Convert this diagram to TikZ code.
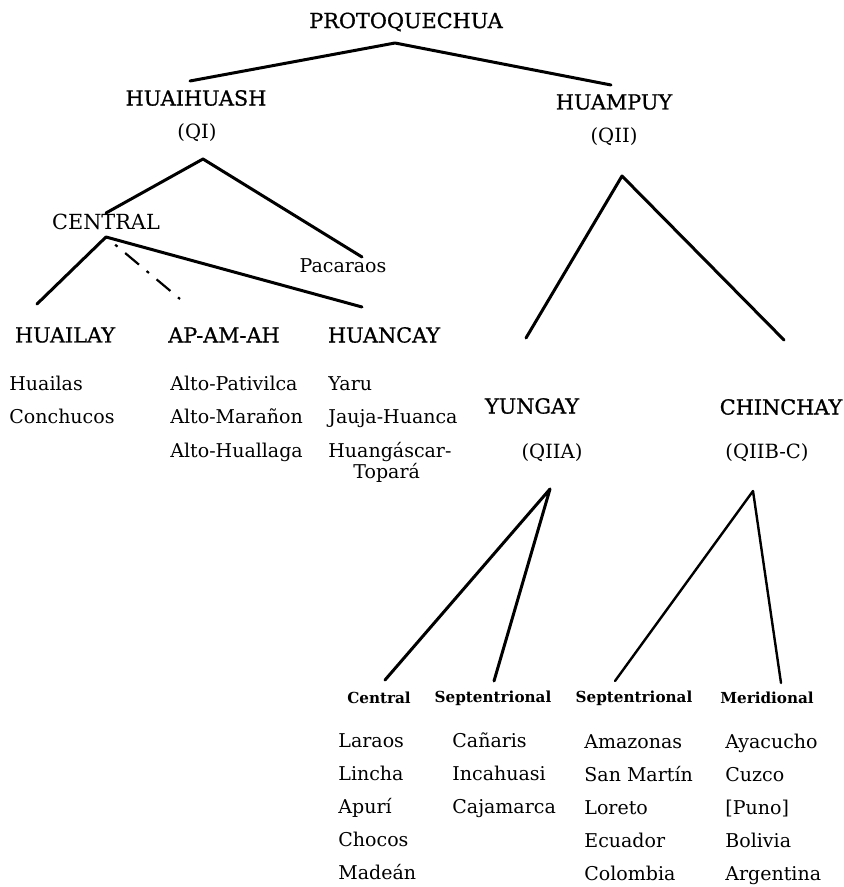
\documentclass[tikz,border=0pt]{standalone}
\usepackage{fontspec}
\setmainfont{DejaVu Serif}
\newfontfamily\heavyserif{DejaVu Serif}[FakeBold=0.9]
\usetikzlibrary{calc}
\tikzset{
  grp/.style={font=\heavyserif\fontsize{10.4}{12}\selectfont, inner sep=1pt},
  plain/.style={font=\fontsize{10.4}{12}\selectfont, inner sep=1pt},
  tag/.style={font=\fontsize{9.8}{12}\selectfont, inner sep=1pt},
  sub/.style={font=\bfseries\fontsize{7.6}{9}\selectfont, inner sep=1pt},
  item/.style={anchor=west, font=\fontsize{9.5}{11}\selectfont,
    inner sep=0pt, text height=7pt, text depth=2pt},
  branch/.style={line width=1.5pt, line cap=round, line join=round}
}

\begin{document}
\begin{tikzpicture}[x=0.5pt,y=-0.5pt]
\useasboundingbox (0,0) rectangle (844,887);
% top of the tree
\node[grp] (pq) at (406,22) {PROTOQUECHUA};
\node[grp] (hh) at (196,98) {HUAIHUASH};
\node[tag] (qi) at (197,133) {(QI)};
\node[grp] (hp) at (614,102) {HUAMPUY};
\node[tag] (qii) at (614,137) {(QII)};
\node[plain] (cen) at (106,222) {CENTRAL};
\node[item, anchor=center] (pac) at (343,268) {Pacaraos};
% QI branches
\foreach \n/\x/\t in {hl/65/HUAILAY,ap/224/AP-AM-AH,hc/384/HUANCAY}
  \node[grp] (\n) at (\x,335) {\t};
\foreach \t [count=\i] in {Huailas,Conchucos}
  \node[item] (hl\i) at (9,{351.5+33.5*\i}) {\t};
\foreach \t [count=\i] in {Alto-Pativilca,Alto-Marañon,Alto-Huallaga}
  \node[item] (ap\i) at (170,{351.5+33.5*\i}) {\t};
\foreach \t [count=\i] in {Yaru,Jauja-Huanca,Huangáscar-}
  \node[item] (hc\i) at (328,{351.5+33.5*\i}) {\t};
\node[item] (hc4) at (353,473) {Topará};
% QII branches
\node[grp] (yu) at (532,406) {YUNGAY};
\node[tag] (qiia) at (552,453) {(QIIA)};
\node[grp] (ch) at (781,407) {CHINCHAY};
\node[tag] (qiib) at (767,453) {(QIIB-C)};
\foreach \n/\x/\t in {yc/379/Central,ys/493/Septentrional,cs/634/Septentrional,cm/767/Meridional}
  \node[sub] (\n) at (\x,698) {\t};
\foreach \t [count=\i] in {Laraos,Lincha,Apurí,Chocos,Madeán}
  \node[item] (yc\i) at (338,{709+33*\i}) {\t};
\foreach \t [count=\i] in {Cañaris,Incahuasi,Cajamarca}
  \node[item] (ys\i) at (452,{709+33*\i}) {\t};
\foreach \t [count=\i] in {Amazonas,San Martín,Loreto,Ecuador,Colombia}
  \node[item] (cs\i) at (584,{710+33*\i}) {\t};
\foreach \t [count=\i] in {Ayacucho,Cuzco,[Puno],Bolivia,Argentina}
  \node[item] (cm\i) at (725,{710+33*\i}) {\t};
% forks and line ends
\coordinate (f0) at (395,43);
\coordinate (f1) at (203,159);
\coordinate (f2) at (106,237);
\coordinate (f3) at (622,176);
\coordinate (f4) at (550,489);
\coordinate (f5) at (753,491);
\coordinate (e-hh) at (190,81);
\coordinate (e-hp) at (611,85);
\coordinate (e-cen) at (106,213);
\coordinate (e-pac) at (362,257);
\coordinate (e-hl) at (37,304);
\coordinate (e-ap) at (180,299);
\coordinate (e-hc) at (362,307);
\coordinate (e-yu) at (526,338);
\coordinate (e-ch) at (784,340);
\coordinate (e-yc) at (385,680);
\coordinate (e-ys) at (494,681);
\coordinate (e-cs) at (615,681);
\coordinate (e-cm) at (781,683);
\draw[branch] (e-hh) -- (f0) -- (e-hp);
\draw[branch] (e-cen) -- (f1) -- (e-pac);
\draw[branch] (e-hl) -- (f2) -- (e-hc);
\draw[line width=1.1pt, dash pattern=on 1.5pt off 5pt on 9pt off 5pt,
  dash phase=-6pt] (f2) -- (e-ap);
\draw[branch] (e-yu) -- (f3) -- (e-ch);
\draw[branch] (e-yc) -- (f4) -- (e-ys);
\draw[branch, line width=1.2pt] (e-cs) -- (f5) -- (e-cm);
\end{tikzpicture}
\end{document}
